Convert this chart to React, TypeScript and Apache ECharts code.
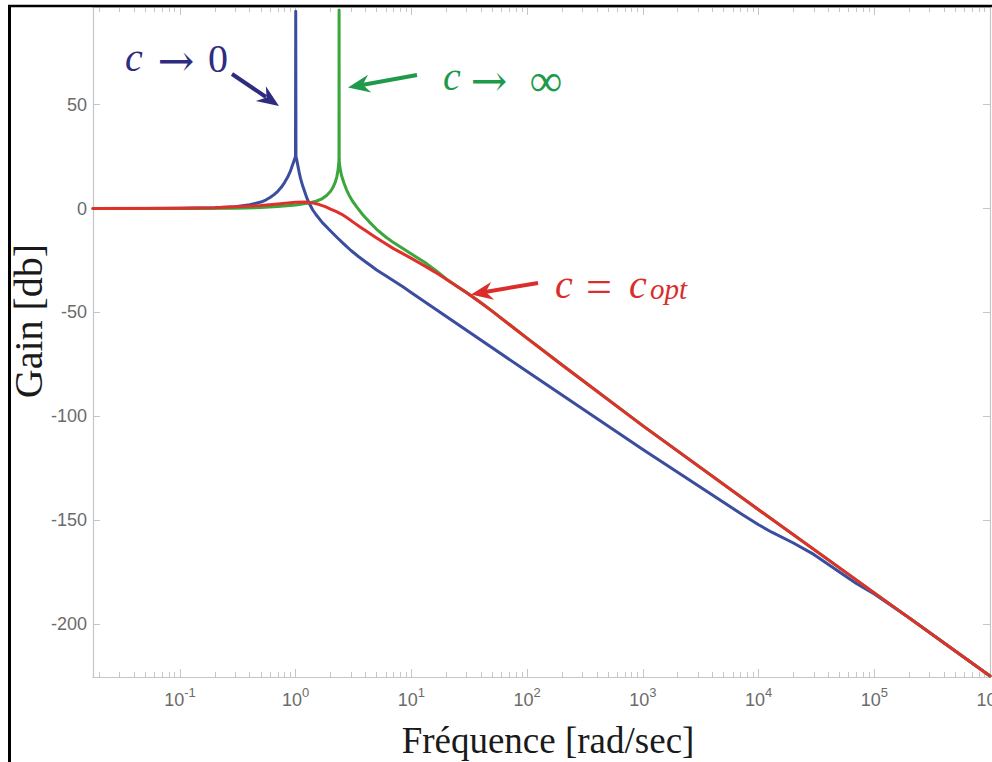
import React, { useEffect, useRef } from "react";
import * as echarts from "echarts";

// ---- axis definitions ----
const X_MIN_FREQ = 0.0177;
const X_MAX_FREQ = 1e6;
const Y_MIN = -225.5;
const Y_MAX = 97;
const MAJOR_EXPONENTS = [-1, 0, 1, 2, 3, 4, 5, 6];
const MINOR_MULTIPLIERS = [2, 3, 4, 5, 6, 7, 8, 9];
const Y_TICKS = [-200, -150, -100, -50, 0, 50];

// ---- c -> 0 (blue) ----
const blueFreq = [0.0177, 0.05, 0.1, 0.2, 0.3, 0.4, 0.5, 0.55, 0.6, 0.65, 0.7, 0.75, 0.8, 0.85, 0.9, 0.93, 0.96, 0.98, 0.995, 1.0, 1.005, 1.02, 1.04, 1.07, 1.1, 1.15, 1.2, 1.25, 1.3, 1.4, 1.5, 1.7, 2, 2.3, 2.6, 3, 3.5, 4, 4.5, 5, 6, 7, 8.5, 10, 100, 1000, 7000, 1e4, 1.3e4, 2e4, 3e4, 5e4, 7e4, 1e5, 2e5, 1e6];
const blueGain = [0, 0, 0.1, 0.4, 0.9, 1.8, 3.1, 4.1, 5.3, 6.7, 8.3, 10.2, 12.5, 15, 18, 20.3, 22.5, 24, 25, 95, 25, 23.5, 21, 17.5, 14.5, 10.8, 7.8, 5, 2.8, -0.6, -3, -6.8, -10.8, -14.2, -17, -20.2, -23.2, -25.6, -27.7, -29.6, -32.4, -34.8, -37.8, -40.5, -78.5, -116, -146.8, -152.2, -155.8, -161, -166.5, -175, -180.5, -185.5, -197, -225];

// ---- c -> infinity (green) ----
const greenFreq = [0.0177, 0.1, 0.3, 0.5, 0.7, 1.0, 1.3, 1.5, 1.7, 1.85, 2.0, 2.1, 2.2, 2.27, 2.32, 2.35, 2.365, 2.37, 2.375, 2.39, 2.43, 2.5, 2.6, 2.75, 2.9, 3.1, 3.4, 3.8, 4.3, 5, 6, 7, 8.5, 10, 13, 16, 20, 25, 30, 40, 50, 70, 100, 200, 1000, 1e4, 1e5, 1e6];
const greenGain = [0, 0, 0.1, 0.5, 1.0, 1.7, 2.7, 3.5, 4.8, 6.3, 8.3, 10.2, 12.8, 15.5, 18.5, 21.5, 23.5, 95.5, 23.5, 21.5, 18.5, 15.5, 12.5, 9, 6.3, 3.5, 0.4, -3.0, -6.3, -10.0, -13.7, -16.4, -19.4, -21.9, -25.9, -29.6, -33.9, -37.5, -40.4, -45.4, -49.4, -55.7, -62.4, -75.2, -104.5, -145, -185, -225];

// ---- c = c_opt (red) ----
const redFreq = [0.0177, 0.1, 0.2, 0.3, 0.5, 0.7, 0.9, 1.0, 1.2, 1.4, 1.6, 1.8, 2, 2.25, 2.5, 2.8, 3.2, 3.6, 4, 4.5, 5, 6, 7, 8.5, 10, 13, 16, 20, 25, 30, 40, 50, 70, 100, 200, 1000, 1e4, 1e5, 1e6];
const redGain = [0, 0.1, 0.4, 0.8, 1.5, 2.2, 2.8, 3.0, 3.1, 2.7, 1.9, 0.9, -0.3, -1.5, -2.8, -4.6, -6.9, -8.9, -10.6, -12.5, -14.2, -17, -19.3, -21.8, -24, -27.6, -30.6, -34, -37.6, -40.5, -45.5, -49.5, -55.8, -62.5, -75.3, -104.6, -145, -185, -225];

const BLUE = "#3b4d9e";
const GREEN = "#3aa63c";
const RED = "#e0302b";
const BLUE_TXT = "#2f2c80";
const GREEN_TXT = "#1f9a4a";
const RED_TXT = "#d92e2b";
const AXIS_GREY = "#c6c6c6";
const LABEL_GREY = "#6b6b6b";

function arrowHead(tip: [number, number], from: [number, number], len: number, half: number, notch: number) {
  const dx = tip[0] - from[0];
  const dy = tip[1] - from[1];
  const L = Math.hypot(dx, dy);
  const ux = dx / L, uy = dy / L;
  const nx = -uy, ny = ux;
  const bx = tip[0] - ux * len, by = tip[1] - uy * len;
  return [
    [tip[0], tip[1]],
    [bx + nx * half, by + ny * half],
    [tip[0] - ux * notch, tip[1] - uy * notch],
    [bx - nx * half, by - ny * half],
  ];
}

export default function App() {
  const ref = useRef<HTMLDivElement>(null);
  useEffect(() => {
    const chart = echarts.init(ref.current!, null, { renderer: "svg" });
    const xMin = Math.log10(X_MIN_FREQ);
    const xMax = Math.log10(X_MAX_FREQ);
    const minorVals: number[] = [];
    for (let e = Math.floor(xMin); e < Math.ceil(xMax); e++) {
      for (const m of MINOR_MULTIPLIERS) {
        const v = e + Math.log10(m);
        if (v > xMin && v < xMax) minorVals.push(v);
      }
    }
    const toPts = (fr: number[], g: number[]) => fr.map((f, i) => [Math.log10(f), g[i]]);

    const baseX = {
      type: "value",
      min: xMin,
      max: xMax,
      splitLine: { show: false },
      axisLine: { show: true, onZero: false, lineStyle: { color: AXIS_GREY, width: 1.2 } },
    };
    const labelFont = "'Liberation Sans', Arial, sans-serif";

    const option: any = {
      animation: false,
      backgroundColor: "#ffffff",
      grid: { left: 93, right: 2, top: 7, bottom: 85, containLabel: false, outerBoundsMode: "none" },
      xAxis: [
        {
          ...baseX,
          position: "bottom",
          axisTick: { show: true, inside: true, length: 8, customValues: MAJOR_EXPONENTS, lineStyle: { color: AXIS_GREY } },
          axisLabel: {
            show: true,
            customValues: MAJOR_EXPONENTS,
            margin: 9,
            fontSize: 18,
            fontFamily: labelFont,
            color: LABEL_GREY,
            formatter: (v: number) => `{b|10}{s|${Math.round(v)}}`,
            rich: {
              b: { fontSize: 18, fontFamily: labelFont, color: LABEL_GREY, lineHeight: 28 },
              s: { fontSize: 13, fontFamily: labelFont, color: LABEL_GREY, lineHeight: 4, verticalAlign: "top" },
            },
          },
        },
        {
          ...baseX,
          position: "bottom",
          axisTick: { show: true, inside: true, length: 5, customValues: minorVals, lineStyle: { color: AXIS_GREY } },
          axisLabel: { show: false },
        },
        {
          ...baseX,
          position: "top",
          axisTick: { show: true, inside: true, length: 8, customValues: MAJOR_EXPONENTS, lineStyle: { color: AXIS_GREY } },
          axisLabel: { show: false },
        },
        {
          ...baseX,
          position: "top",
          axisTick: { show: true, inside: true, length: 5, customValues: minorVals, lineStyle: { color: AXIS_GREY } },
          axisLabel: { show: false },
        },
      ],
      yAxis: [
        {
          type: "value",
          position: "left",
          min: Y_MIN,
          max: Y_MAX,
          splitLine: { show: false },
          axisLine: { show: true, onZero: false, lineStyle: { color: AXIS_GREY, width: 1.2 } },
          axisTick: { show: true, inside: true, length: 7, customValues: Y_TICKS, lineStyle: { color: AXIS_GREY } },
          axisLabel: { show: true, customValues: Y_TICKS, margin: 6, fontSize: 18, fontFamily: labelFont, color: LABEL_GREY },
        },
        {
          type: "value",
          position: "right",
          min: Y_MIN,
          max: Y_MAX,
          splitLine: { show: false },
          axisLine: { show: true, onZero: false, lineStyle: { color: AXIS_GREY, width: 1.2 } },
          axisTick: { show: true, inside: true, length: 7, customValues: Y_TICKS, lineStyle: { color: AXIS_GREY } },
          axisLabel: { show: false },
        },
      ],
      series: [
        { name: "c→0", data: toPts(blueFreq, blueGain), color: BLUE },
        { name: "c→∞", data: toPts(greenFreq, greenGain), color: GREEN },
        { name: "c=copt", data: toPts(redFreq, redGain), color: RED },
      ].map((s, i) => ({
        type: "line",
        name: s.name,
        xAxisIndex: 0,
        yAxisIndex: 0,
        data: s.data,
        showSymbol: false,
        symbol: "none",
        clip: true,
        smooth: false,
        z: 2 + i,
        itemStyle: { color: s.color },
        lineStyle: { color: s.color, width: 3, join: "round", cap: "round" },
      })),
      graphic: {
        elements: [
          // frame
          { type: "line", z: 100, shape: { x1: 8, y1: 6, x2: 992, y2: 6 }, style: { stroke: "#000", lineWidth: 2.5 } },
          { type: "line", z: 100, shape: { x1: 9.5, y1: 5, x2: 9.5, y2: 762 }, style: { stroke: "#000", lineWidth: 3 } },
          // axis titles
          {
            type: "text", z: 100, x: 548, y: 740,
            style: { text: "Fréquence [rad/sec]", font: "37px 'Liberation Serif', serif", fill: "#1a1a1a", align: "center", verticalAlign: "middle" },
          },
          {
            type: "text", z: 100, x: 28, y: 321, rotation: Math.PI / 2,
            style: { text: "Gain [db]", font: "40px 'Liberation Serif', serif", fill: "#1a1a1a", align: "center", verticalAlign: "middle" },
          },
          // c -> 0
          { type: "text", z: 100, x: 125, y: 57, style: { text: "c", font: "italic 40px 'Liberation Serif', serif", fill: BLUE_TXT, align: "left", verticalAlign: "middle" } },
          { type: "text", z: 100, x: 176, y: 60, style: { text: "→", font: "44px 'DejaVu Serif', serif", fill: BLUE_TXT, align: "center", verticalAlign: "middle" } },
          { type: "text", z: 100, x: 208, y: 58, style: { text: "0", font: "40px 'Liberation Serif', serif", fill: BLUE_TXT, align: "left", verticalAlign: "middle" } },
          { type: "line", z: 100, shape: { x1: 232, y1: 74, x2: 266, y2: 97 }, style: { stroke: BLUE_TXT, lineWidth: 4 } },
          { type: "polygon", z: 100, shape: { points: arrowHead([279, 106], [232, 74], 22, 9, 15) }, style: { fill: BLUE_TXT } },
          // c -> infinity
          { type: "text", z: 100, x: 443, y: 76, style: { text: "c", font: "italic 40px 'Liberation Serif', serif", fill: GREEN_TXT, align: "left", verticalAlign: "middle" } },
          { type: "text", z: 100, x: 489, y: 80, style: { text: "→", font: "44px 'DejaVu Serif', serif", fill: GREEN_TXT, align: "center", verticalAlign: "middle" } },
          { type: "text", z: 100, x: 546, y: 80, style: { text: "∞", font: "46px 'Liberation Serif', serif", fill: GREEN_TXT, align: "center", verticalAlign: "middle" } },
          { type: "line", z: 100, shape: { x1: 417, y1: 75, x2: 362, y2: 85 }, style: { stroke: GREEN_TXT, lineWidth: 4 } },
          { type: "polygon", z: 100, shape: { points: arrowHead([348, 87.5], [417, 75], 22, 9, 15) }, style: { fill: GREEN_TXT } },
          // c = c_opt
          { type: "text", z: 100, x: 555, y: 284, style: { text: "c", font: "italic 40px 'Liberation Serif', serif", fill: RED_TXT, align: "left", verticalAlign: "middle" } },
          { type: "text", z: 100, x: 599, y: 286, style: { text: "=", font: "46px 'Liberation Serif', serif", fill: RED_TXT, align: "center", verticalAlign: "middle" } },
          { type: "text", z: 100, x: 629, y: 284, style: { text: "c", font: "italic 40px 'Liberation Serif', serif", fill: RED_TXT, align: "left", verticalAlign: "middle" } },
          { type: "text", z: 100, x: 650, y: 289, style: { text: "opt", font: "italic 29px 'Liberation Serif', serif", fill: RED_TXT, align: "left", verticalAlign: "middle" } },
          { type: "line", z: 100, shape: { x1: 538, y1: 283, x2: 485, y2: 292 }, style: { stroke: RED_TXT, lineWidth: 4 } },
          { type: "polygon", z: 100, shape: { points: arrowHead([471, 294.5], [538, 283], 22, 9, 15) }, style: { fill: RED_TXT } },
        ],
      },
    };
    chart.setOption(option);
    return () => chart.dispose();
  }, []);
  return <div ref={ref} style={{ position: "fixed", left: 0, top: 0, width: 992, height: 762, background: "#fff" }} />;
}
